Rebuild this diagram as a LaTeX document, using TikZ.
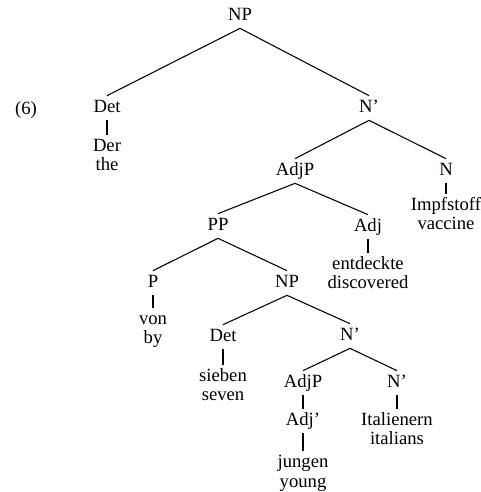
\documentclass[tikz,border=0pt]{standalone}
\usepackage{fontspec}
\setmainfont{Liberation Serif}
\usepackage{tikz}

\begin{document}
\begin{tikzpicture}[x=0.75pt,y=0.75pt,yscale=-1,xscale=1,
  lbl/.style={inner xsep=0.75pt,inner ysep=2.4pt,font=\fontsize{14}{16}\selectfont,text height=9.8pt,text depth=3.5pt},
  branch/.style={line width=0.8},
  stem/.style={line width=1.6}]
%set diagram left start at 0, and has height of 492
\useasboundingbox (0,0) rectangle (481,492);

% Text Node
\node [lbl] (ex) at (26,110) {(6)};
% Text Node
\node [lbl] (np1) at (240,16) {NP};
% Text Node
\node [lbl] (det1) at (107,108) {Det};
% Text Node
\node [lbl] (nb1) at (369,108) {N'};
% Text Node
\node [lbl] (der) at (107,147) {Der};
\node [lbl] (the) at (107,166) {the};
% Text Node
\node [lbl] (adjp1) at (295,171) {AdjP};
% Text Node
\node [lbl] (n1) at (446,171) {N};
% Text Node
\node [lbl] (impf) at (446,206) {Impfstoff};
\node [lbl] (vacc) at (446,225) {vaccine};
% Text Node
\node [lbl] (pp) at (218,226) {PP};
% Text Node
\node [lbl] (adj1) at (368,227) {Adj};
% Text Node
\node [lbl] (entd) at (368,265) {entdeckte};
\node [lbl] (disc) at (368,284) {discovered};
% Text Node
\node [lbl] (p) at (153,283) {P};
% Text Node
\node [lbl] (np2) at (287,283) {NP};
% Text Node
\node [lbl] (von) at (153,320) {von};
\node [lbl] (by) at (153,339) {by};
% Text Node
\node [lbl] (det2) at (223,337) {Det};
% Text Node
\node [lbl] (nb2) at (350,336) {N'};
% Text Node
\node [lbl] (sieb) at (223,377) {sieben};
\node [lbl] (seven) at (223,396) {seven};
% Text Node
\node [lbl] (adjp2) at (303,383) {AdjP};
% Text Node
\node [lbl] (nb3) at (397,383) {N'};
% Text Node
\node [lbl] (adjb) at (303,421) {Adj'};
% Text Node
\node [lbl] (ital) at (397,421) {Italienern};
\node [lbl] (itals) at (397,440) {italians};
% Text Node
\node [lbl] (jung) at (303,463) {jungen};
\node [lbl] (young) at (303,483) {young};

%Straight Lines
\draw [branch] (np1.south) -- (det1.north) ;
\draw [branch] (np1.south) -- (nb1.north) ;
\draw [branch] (nb1.south) -- (adjp1.north) ;
\draw [branch] (nb1.south) -- (n1.north) ;
\draw [branch] (adjp1.south) -- (pp.north) ;
\draw [branch] (adjp1.south) -- (adj1.north) ;
\draw [branch] (pp.south) -- (p.north) ;
\draw [branch] (pp.south) -- (np2.north) ;
\draw [branch] (np2.south) -- (det2.north) ;
\draw [branch] (np2.south) -- (nb2.north) ;
\draw [branch] (nb2.south) -- (adjp2.north) ;
\draw [branch] (nb2.south) -- (nb3.north) ;

%Straight Lines
\draw [stem] (det1.south) -- (der.north) ;
\draw [stem] (n1.south) -- (impf.north) ;
\draw [stem] (adj1.south) -- (entd.north) ;
\draw [stem] (p.south) -- (von.north) ;
\draw [stem] (det2.south) -- (sieb.north) ;
\draw [stem] (adjp2.south) -- (adjb.north) ;
\draw [stem] (adjb.south) -- (jung.north) ;
\draw [stem] (nb3.south) -- (ital.north) ;
\end{tikzpicture}
\end{document}
